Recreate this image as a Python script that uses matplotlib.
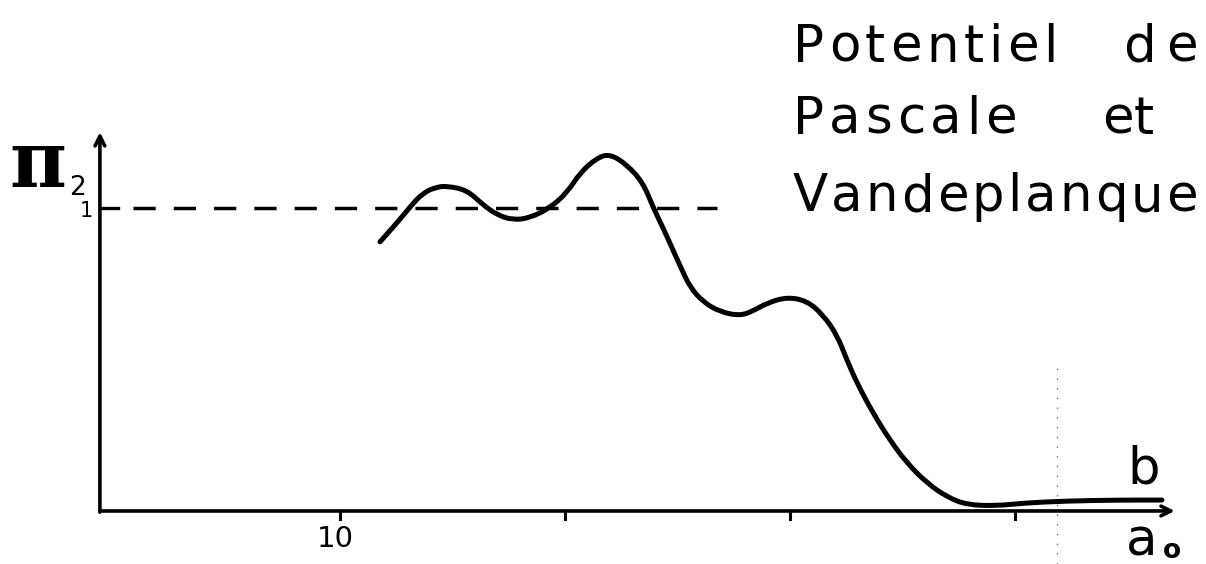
import matplotlib
matplotlib.use("Agg")
import matplotlib.pyplot as plt
from matplotlib.path import Path
from matplotlib.patches import PathPatch

plt.rcParams["lines.scale_dashes"] = False

# curve (a0 in axis units, Pi_2 normalised so the dashed line = 1)
a0 = [11.78, 12.53, 13.11, 13.69, 14.31, 14.76, 15.64, 16.36, 16.98, 17.69,
      18.44, 19.33, 20.09, 20.67, 21.42, 22.00, 22.76, 23.47, 23.91, 24.36,
      24.80, 25.20, 25.56, 26.13, 26.89, 27.78, 28.36, 28.98, 29.87, 30.76,
      31.47, 32.09, 32.53, 32.98, 33.69, 34.44, 35.20, 36.09, 36.98, 37.87,
      39.20, 40.36, 42.31, 44.67, 46.53]
pi2 = [0.888, 0.950, 1.003, 1.050, 1.069, 1.072, 1.059, 1.010, 0.977, 0.960,
       0.967, 1.000, 1.050, 1.116, 1.165, 1.178, 1.142, 1.083, 1.003, 0.934,
       0.861, 0.795, 0.739, 0.690, 0.657, 0.644, 0.660, 0.686, 0.706, 0.693,
       0.647, 0.581, 0.498, 0.422, 0.323, 0.234, 0.158, 0.092, 0.046, 0.020,
       0.017, 0.026, 0.033, 0.036, 0.036]

x_ticks = [10, 20, 30, 40]
x_tick_labels = ["10", "", "", ""]
ref_level = 1.0
ref_end = 26.76

W, H = 1206, 564
fig = plt.figure(figsize=(W / 100, H / 100), dpi=100)
ax = fig.add_axes([0, 0, 1, 1])
ax.set_axis_off()
ax.set_xlim(-5.11, 48.49)
ax.set_ylim(-0.175, 1.686)

x0 = -0.67
k = "black"

# axes drawn as arrows
arrow = dict(arrowstyle="->,head_length=0.7,head_width=0.35",
             lw=2.6, color=k, shrinkA=0, shrinkB=0)
ax.annotate("", xy=(47.1, 0), xytext=(x0, 0), arrowprops=arrow)
ax.annotate("", xy=(x0, 1.25), xytext=(x0, -0.004), arrowprops=arrow)

for t in x_ticks:
    ax.plot([t, t], [0, -0.025], color=k, lw=2.2)
for t, lab in zip(x_ticks, x_tick_labels):
    if lab:
        ax.text(t - 0.2, -0.045, lab, fontsize=21, ha="center", va="top")

# dashed reference line at Pi_2 = 1
ax.plot([x0, 0.13], [ref_level, ref_level], color=k, lw=2.4)
ln, = ax.plot([0.8, ref_end], [ref_level, ref_level], color=k, lw=2.5)
ln.set_dashes((16, 13))

# the curve, drawn as a smooth quadratic path through the read points
pts = list(zip(a0, pi2))
verts = [pts[0]]
codes = [Path.MOVETO]
for i in range(1, len(pts) - 1):
    mid = ((pts[i][0] + pts[i + 1][0]) / 2, (pts[i][1] + pts[i + 1][1]) / 2)
    verts += [pts[i], mid]
    codes += [Path.CURVE3, Path.CURVE3]
verts.append(pts[-1])
codes.append(Path.LINETO)
ax.add_patch(PathPatch(Path(verts, codes), fill=False, lw=3.6, ec=k,
                       capstyle="round", joinstyle="round"))

# faint fold mark on the scan
ax.plot([41.86, 41.86], [-0.175, 0.48], color="0.4", lw=0.9, ls=(0, (1, 6)))

fig.canvas.draw()
rend = fig.canvas.get_renderer()


def ft(px, py, s, **kw):
    return fig.text(px / W, 1 - py / H, s, va="baseline", ha="left", **kw)


def spaced(px0, py, s, size, px1=None, gap=1.0):
    # letter-spaced word (the scan's lettering is set wide);
    # with px1 the glyphs are spread to end at px1
    parts = [ft(0, py, c, fontsize=size) for c in s]
    widths = [p.get_window_extent(rend).width for p in parts]
    if px1 is not None:
        gap = (px1 - px0 - sum(widths)) / max(len(s) - 1, 1)
    x = px0
    for p, w in zip(parts, widths):
        p.set_x(x / W)
        x += w + gap


ft(9, 187, "π", fontsize=56, fontweight="bold", family="DejaVu Serif")
ft(69, 195, "2", fontsize=19)
ft(80, 217, "1", fontsize=15)

tsize = 37
spaced(793, 62, "Potentiel", tsize, px1=1058)
spaced(1123, 62, "de", tsize, px1=1198)
spaced(793, 134, "Pascale", tsize, px1=1017)
spaced(1102, 134, "et", tsize, gap=0)
spaced(793, 211, "Vandeplanque", tsize, px1=1198)

ft(1127, 484, "b", fontsize=37)
ft(1126, 555, "a", fontsize=37)
ft(1163, 558, "o", fontsize=19, fontweight="bold")

fig.savefig("out.png", dpi=100)
